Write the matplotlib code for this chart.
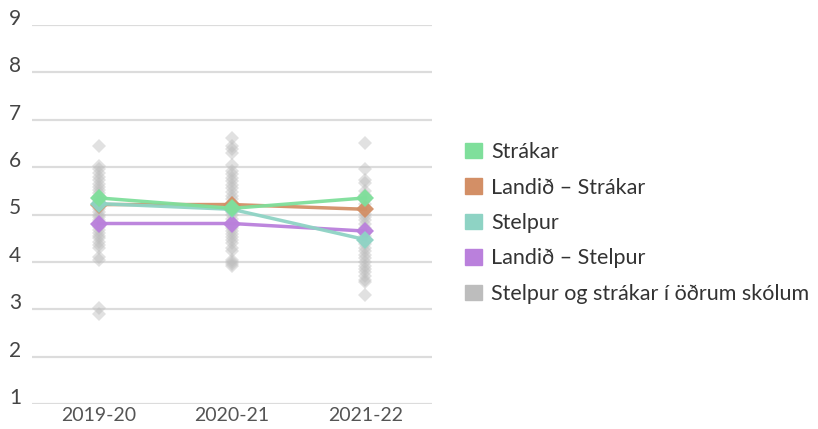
import numpy as np
import matplotlib
matplotlib.use("Agg")
from matplotlib import pyplot as plt
from matplotlib.patches import Patch

years = ["2019-20", "2020-21", "2021-22"]

strakar = [5.35, 5.13, 5.35]
landid_strakar = [5.21, 5.21, 5.11]
stelpur = [5.23, 5.11, 4.47]
landid_stelpur = [4.81, 4.81, 4.65]

# other schools, one list per school year
adrir_2019 = [6.45, 6.02, 5.95, 5.88, 5.8, 5.72, 5.65, 5.58, 5.52, 5.46, 5.4, 5.33,
              5.27, 5.2, 5.12, 5.06, 5.0, 4.94, 4.88, 4.82, 4.74, 4.68, 4.6, 4.55,
              4.5, 4.42, 4.36, 4.3, 4.1, 4.05, 3.03, 2.91]
adrir_2020 = [6.62, 6.45, 6.38, 6.3, 6.05, 5.92, 5.85, 5.78, 5.7, 5.62, 5.55, 5.48,
              5.4, 5.32, 5.25, 5.16, 5.05, 4.98, 4.9, 4.82, 4.72, 4.65, 4.58, 4.52,
              4.46, 4.4, 4.3, 4.22, 4.05, 4.0, 3.95, 3.92]
adrir_2021 = [6.5, 5.95, 5.72, 5.66, 5.5, 5.42, 5.3, 5.22, 5.1, 5.02, 4.95, 4.88,
              4.8, 4.72, 4.62, 4.55, 4.45, 4.38, 4.3, 4.22, 4.15, 4.08, 4.0, 3.92,
              3.85, 3.78, 3.7, 3.62, 3.58, 3.3]
adrir = [adrir_2019, adrir_2020, adrir_2021]

yticks = [1, 2, 3, 4, 5, 6, 7, 8, 9]

c_green = "#7fdf9b"
c_orange = "#d38f66"
c_teal = "#8ed3c4"
c_purple = "#ba80dc"
c_gray = "#bdbdbd"

plt.rcParams["font.family"] = ["Lato", "DejaVu Sans"]

fig = plt.figure(figsize=(8.18, 4.29), dpi=100)
ax = fig.add_axes([32 / 818, 25 / 429, 400 / 818, 379 / 429])

x = np.arange(len(years))

for i, vals in enumerate(adrir):
    ax.plot([x[i]] * len(vals), vals, "D", color=c_gray, alpha=0.45,
            markersize=7, markeredgewidth=0, zorder=2)

for series, col in [(landid_strakar, c_orange), (landid_stelpur, c_purple),
                    (stelpur, c_teal), (strakar, c_green)]:
    ax.plot(x, series, "-D", color=col, lw=2.5, markersize=9.5,
            markeredgewidth=0, alpha=0.95, zorder=3)

ax.set_xlim(-0.5, 2.5)
ax.set_ylim(1, 9)
for s in ax.spines.values():
    s.set_visible(False)
ax.set_yticks(yticks)
ax.set_yticklabels([])
ax.tick_params(length=0)
ax.grid(axis="y", color="#dcdcdc", lw=1.6, zorder=0)
ax.set_axisbelow(True)

ax.set_xticks(x)
ax.set_xticklabels(years, fontsize=14, color="#555555")
ax.tick_params(axis="x", pad=2)

# value labels sit just above each gridline, at the left edge
for v in yticks:
    ypix = 429 - (404 - (v - 1) * 379 / 8) + 6
    fig.text(9 / 818, ypix / 429, str(v), fontsize=15, color="#444444",
             ha="left", va="center")

handles = [Patch(color=c, label=l) for c, l in [
    (c_green, "Strákar"),
    (c_orange, "Landið – Strákar"),
    (c_teal, "Stelpur"),
    (c_purple, "Landið – Stelpur"),
    (c_gray, "Stelpur og strákar í öðrum skólum"),
]]
fig.legend(handles=handles, loc="center left", bbox_to_anchor=(446 / 818, 1 - 223 / 429),
           frameon=False, fontsize=15.5, handlelength=0.75, handleheight=0.75,
           handletextpad=0.45, labelspacing=0.72, labelcolor="#333333")

fig.savefig("out.png", dpi=100)
